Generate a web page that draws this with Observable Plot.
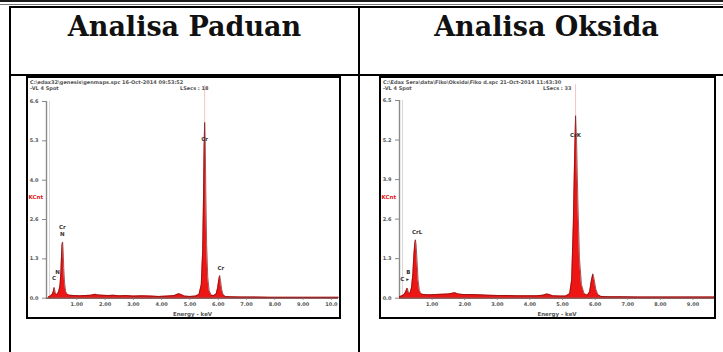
<!DOCTYPE html>
<html>
<head>
<meta charset="utf-8">
<script src="https://cdn.jsdelivr.net/npm/d3@7"></script>
<script src="https://cdn.jsdelivr.net/npm/@observablehq/plot@0.6"></script>
<style>
  html, body { margin: 0; padding: 0; background: #fff; overflow: hidden; }
  #page { position: relative; width: 723px; height: 352px; overflow: hidden; background: #fff; }
  .bar { position: absolute; background: #000; }
  .hdr { position: absolute; top: 13px; font-family: "DejaVu Serif", serif; font-weight: bold; font-size: 27px; line-height: 27px; text-align: center; color: #111; white-space: nowrap; }
  .frame { position: absolute; border: 2px solid #000; box-sizing: border-box; background: #fff; overflow: hidden; }
  .meta { position: absolute; font-family: "DejaVu Sans", sans-serif; font-weight: bold; font-size: 5px; line-height: 6px; color: #555; white-space: nowrap; }
  .frame svg { position: absolute; left: 0; top: 0; }
</style>
</head>
<body>
<div id="page"></div>
<script>
// ---------- data ----------
const headers = ["Analisa Paduan", "Analisa Oksida"];

const paduanEnergy = [0.00,0.08,0.14,0.18,0.20,0.22,0.25,0.29,0.33,0.37,0.41,0.44,0.46,0.48,0.50,0.52,0.54,0.57,0.61,0.67,0.75,0.90,1.10,1.30,1.50,1.65,1.75,1.90,2.10,2.30,2.50,2.75,3.00,3.30,3.60,3.90,4.20,4.45,4.60,4.70,4.80,5.00,5.20,5.32,5.40,5.45,5.48,5.50,5.52,5.54,5.56,5.59,5.63,5.68,5.75,5.85,5.93,5.98,6.02,6.05,6.08,6.12,6.17,6.25,6.40,6.80,7.30,7.80,8.30,8.80,9.30,9.80,10.25];
const paduanCounts = [0.04,0.08,0.14,0.25,0.36,0.28,0.14,0.12,0.16,0.25,0.45,0.90,1.40,1.80,1.88,1.55,1.00,0.50,0.22,0.12,0.10,0.09,0.08,0.09,0.10,0.13,0.11,0.10,0.09,0.10,0.08,0.09,0.07,0.08,0.07,0.06,0.07,0.09,0.15,0.12,0.07,0.06,0.07,0.12,0.45,1.60,3.40,5.00,5.90,5.30,3.60,1.80,0.70,0.25,0.10,0.09,0.15,0.35,0.62,0.76,0.60,0.30,0.12,0.06,0.05,0.04,0.04,0.03,0.03,0.03,0.03,0.03,0.03];
const paduanXTicks = [1,2,3,4,5,6,7,8,9,10];
const paduanYTicks = [0, 1.32, 2.64, 3.96, 5.28, 6.6];
const paduanLabelText = ["C", "N", "Cr", "N", "Cr", "Cr"];
const paduanLabelEnergy = [0.20, 0.32, 0.49, 0.49, 5.52, 6.09];
const paduanLabelCounts = [0.66, 0.87, 2.38, 2.13, 5.35, 1.00];
const paduanMarker = [5.52];
const paduanMeta = ["C:\\edax32\\genesis\\genmaps.spc  16-Oct-2014 09:53:52", "-VL  4 Spot", "LSecs : 18"];

const oksidaEnergy = [0.00,0.08,0.14,0.19,0.22,0.24,0.26,0.29,0.33,0.37,0.41,0.44,0.47,0.49,0.51,0.54,0.57,0.61,0.66,0.75,0.90,1.10,1.30,1.50,1.70,1.80,1.95,2.20,2.45,2.70,3.00,3.30,3.60,3.90,4.20,4.40,4.52,4.60,4.70,4.90,5.10,5.22,5.28,5.33,5.37,5.40,5.43,5.47,5.52,5.58,5.66,5.76,5.83,5.88,5.93,5.97,6.02,6.08,6.18,6.40,6.80,7.30,7.80,8.30,8.80,9.30,9.66];
const oksidaCounts = [0.05,0.08,0.12,0.20,0.30,0.33,0.25,0.15,0.18,0.35,0.80,1.40,1.80,1.92,1.75,1.20,0.60,0.25,0.14,0.12,0.11,0.12,0.13,0.14,0.18,0.14,0.12,0.12,0.11,0.10,0.09,0.09,0.08,0.08,0.08,0.10,0.14,0.12,0.08,0.07,0.07,0.15,0.60,2.40,4.60,6.00,5.20,3.20,1.30,0.45,0.15,0.10,0.20,0.55,0.80,0.62,0.30,0.12,0.06,0.05,0.05,0.04,0.04,0.04,0.04,0.04,0.04];
const oksidaXTicks = [1,2,3,4,5,6,7,8,9];
const oksidaYTicks = [0, 1.3, 2.6, 3.9, 5.2, 6.5];
const oksidaLabelText = ["C \u25B8", "B", "CrL", "CrK"];
const oksidaLabelEnergy = [0.16, 0.27, 0.54, 5.40];
const oksidaLabelCounts = [0.62, 0.86, 2.17, 5.37];
const oksidaMarker = [5.40];
const oksidaMeta = ["C:\\Edax Sera\\data\\Fiko\\Oksida\\Fiko d.spc  21-Oct-2014 11:43:30", "-VL  4 Spot", "LSecs : 33"];

const axisTitle = "Energy - keV";
const yUnit = "KCnt";

// ---------- layout ----------
const page = document.getElementById("page");
function bar(l, t, w, h, color) {
  const d = document.createElement("div");
  d.className = "bar";
  Object.assign(d.style, {left: l + "px", top: t + "px", width: w + "px", height: h + "px"});
  if (color) d.style.background = color;
  page.appendChild(d);
}
bar(0, 0, 723, 2, "#1c1c1c");
bar(0, 4, 723, 1, "#777");
bar(9, 6, 740, 2);      // table top
bar(9, 6, 2, 360);      // table left
bar(358, 6, 2, 360);    // middle
bar(9, 74, 740, 2);     // row separator

const cells = [{left: 11, width: 347}, {left: 360, width: 373}];
headers.forEach((h, i) => {
  const d = document.createElement("div");
  d.className = "hdr";
  d.textContent = h;
  d.style.left = cells[i].left + "px";
  d.style.width = cells[i].width + "px";
  page.appendChild(d);
});

function panel(opt) {
  const f = document.createElement("div");
  f.className = "frame";
  Object.assign(f.style, {left: opt.left + "px", top: "76px", width: opt.w + "px", height: "243px"});
  page.appendChild(f);
  const data = opt.energy.map((e, i) => ({energy: e, counts: opt.counts[i]}));
  const labels = opt.labelText.map((t, i) => ({text: t, energy: opt.labelEnergy[i], counts: opt.labelCounts[i]}));
  const ymax = opt.yTicks[opt.yTicks.length - 1];
  const chart = Plot.plot({
    width: opt.w - 4,
    height: 239,
    marginLeft: 18,
    marginRight: opt.mr,
    marginTop: opt.mt,
    marginBottom: 19.3,
    x: {domain: opt.xDomain},
    y: {domain: [0, ymax]},
    style: {background: "transparent", fontFamily: "DejaVu Sans, sans-serif", fontSize: "5px", fontWeight: "bold", color: "#555", overflow: "visible"},
    marks: [
      Plot.ruleX(opt.marker, {y1: 0, y2: ymax * 1.08, stroke: "#f5c4c4", strokeWidth: 1}),
      Plot.ruleX([opt.xDomain[0]], {y1: 0, y2: ymax, stroke: "#8a8a8a", strokeWidth: 1.4}),
      Plot.ruleX([opt.xDomain[0]], {y1: 0, y2: ymax, stroke: "#d8d8d8", strokeWidth: 1, dx: 3}),
      Plot.areaY(data, {x: "energy", y: "counts", fill: "#ee1515"}),
      Plot.lineY(data, {x: "energy", y: "counts", stroke: "#7a1212", strokeWidth: 0.7}),
      Plot.ruleY([0], {stroke: "#6e2a2a", strokeWidth: 1.3}),
      Plot.axisY({ticks: opt.yTicks, tickFormat: d => d.toFixed(1), tickSize: 4, tickPadding: 4, stroke: "#888", label: null}),
      Plot.axisX({ticks: opt.xTicks, tickFormat: d => d >= 10 ? d.toFixed(1) : d.toFixed(2), tickSize: 2, tickPadding: 2, stroke: "#777", label: null}),
      Plot.text([axisTitle], {frameAnchor: "bottom", dy: 18, fill: "#555", fontSize: 5.5, lineAnchor: "bottom"}),
      Plot.text([yUnit], {x: opt.xDomain[0], y: opt.unitY, dx: -18, textAnchor: "start", fill: "#e02020", fontSize: 5.5}),
      Plot.text(labels, {x: "energy", y: "counts", text: "text", fill: "#333", fontSize: 5.5})
    ]
  });
  f.appendChild(chart);
  opt.meta.forEach((m, i) => {
    const d = document.createElement("div");
    d.className = "meta";
    d.textContent = m;
    const pos = i === 2 ? {left: opt.lsecsX + "px", top: "7px"} : {left: "2px", top: (1 + i * 6) + "px"};
    Object.assign(d.style, pos);
    f.appendChild(d);
  });
}

panel({left: 26, w: 315, mr: 1, mt: 23, xDomain: [-0.07, 10.25], xTicks: paduanXTicks, yTicks: paduanYTicks,
  energy: paduanEnergy, counts: paduanCounts, labelText: paduanLabelText, labelEnergy: paduanLabelEnergy,
  labelCounts: paduanLabelCounts, marker: paduanMarker, meta: paduanMeta, unitY: 3.39, lsecsX: 152});
panel({left: 379, w: 337, mr: 0, mt: 22, xDomain: [0, 9.66], xTicks: oksidaXTicks, yTicks: oksidaYTicks,
  energy: oksidaEnergy, counts: oksidaCounts, labelText: oksidaLabelText, labelEnergy: oksidaLabelEnergy,
  labelCounts: oksidaLabelCounts, marker: oksidaMarker, meta: oksidaMeta, unitY: 3.32, lsecsX: 162});
</script>
</body>
</html>
